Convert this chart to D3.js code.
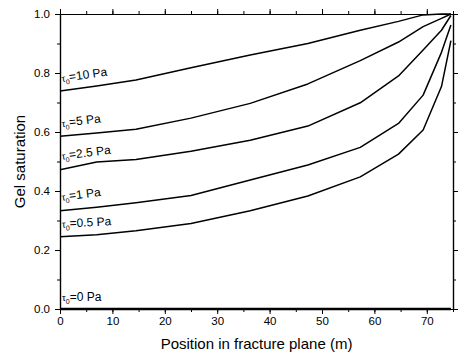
<!DOCTYPE html>
<html>
<head>
<meta charset="utf-8">
<script src="https://cdn.jsdelivr.net/npm/d3@7"></script>
<style>
  body { margin: 0; background: #fff; }
  text { font-family: "Liberation Sans", Arial, sans-serif; fill: #000; }
</style>
</head>
<body>
<svg id="chart" width="465" height="360"></svg>
<script>
// x positions along the fracture plane (m)
const positions = [0, 7, 14.5, 25, 36.3, 47.3, 57.3, 64.6, 69.3, 72.8, 74.6];

// gel saturation for each yield stress
const sat10  = [0.739, 0.756, 0.776, 0.818, 0.861, 0.900, 0.945, 0.975, 0.997, 1.0, 1.0];
const sat5   = [0.586, 0.597, 0.609, 0.647, 0.697, 0.763, 0.842, 0.905, 0.957, 0.985, 1.0];
const sat2_5 = [0.472, 0.498, 0.507, 0.535, 0.572, 0.620, 0.699, 0.790, 0.878, 0.945, 0.995];
const sat1   = [0.333, 0.345, 0.360, 0.385, 0.437, 0.488, 0.548, 0.629, 0.725, 0.870, 0.963];
const sat0_5 = [0.245, 0.252, 0.265, 0.290, 0.333, 0.383, 0.448, 0.525, 0.607, 0.754, 0.910];
const sat0   = [0, 0, 0, 0, 0, 0, 0, 0, 0, 0, 0];

const labels = ["=10 Pa", "=5 Pa", "=2.5 Pa", "=1 Pa", "=0.5 Pa", "=0 Pa"];
const xTicks = [0, 10, 20, 30, 40, 50, 60, 70];
const yTicks = [0.0, 0.2, 0.4, 0.6, 0.8, 1.0];

const series = [sat10, sat5, sat2_5, sat1, sat0_5, sat0];

const margin = { left: 60, top: 14, right: 12, bottom: 51 };
const width = 465 - margin.left - margin.right;
const height = 360 - margin.top - margin.bottom;

const svg = d3.select("#chart");
const g = svg.append("g").attr("transform", "translate(" + margin.left + "," + margin.top + ")");

const x = d3.scaleLinear().domain([0, 75]).range([0, width]);
const y = d3.scaleLinear().domain([0, 1]).range([height, 0]);

const minorX = d3.range(0, 76, 5);
const minorY = d3.range(0, 1.01, 0.1);

// minor ticks (short) on all four sides
function minorAxis(axis, scale, vals) {
  return axis(scale).tickValues(vals).tickSize(3).tickFormat("").tickSizeOuter(0);
}
g.append("g").attr("transform", "translate(0," + height + ")")
  .call(minorAxis(d3.axisBottom, x, minorX));
g.append("g").call(minorAxis(d3.axisTop, x, minorX));
g.append("g").call(minorAxis(d3.axisLeft, y, minorY));
g.append("g").attr("transform", "translate(" + width + ",0)")
  .call(minorAxis(d3.axisRight, y, minorY));

// major axes
g.append("g").attr("transform", "translate(0," + height + ")")
  .call(d3.axisBottom(x).tickValues(xTicks).tickSize(5).tickSizeOuter(0).tickPadding(3))
  .call(a => a.selectAll("text").attr("font-size", "11.5px").attr("fill", "#000"));
g.append("g")
  .call(d3.axisLeft(y).tickValues(yTicks).tickSize(5).tickSizeOuter(0).tickPadding(5).tickFormat(d3.format(".1f")))
  .call(a => a.selectAll("text").attr("font-size", "11.5px").attr("fill", "#000"));
g.append("g").call(d3.axisTop(x).tickValues(xTicks).tickSize(5).tickFormat("").tickSizeOuter(0));
g.append("g").attr("transform", "translate(" + width + ",0)")
  .call(d3.axisRight(y).tickValues(yTicks).tickSize(5).tickFormat("").tickSizeOuter(0));

g.selectAll(".domain").attr("stroke", "#000").attr("stroke-width", 1.2);
g.selectAll(".tick line").attr("stroke", "#000").attr("stroke-width", 1);

// curves
const line = d3.line().x((d, i) => x(positions[i])).y(d => y(d));
g.selectAll("path.curve")
  .data(series)
  .enter()
  .append("path")
  .attr("class", "curve")
  .attr("d", d => line(d))
  .attr("fill", "none")
  .attr("stroke", "#000")
  .attr("stroke-width", (d, i) => i === 5 ? 2.6 : 1.5)
  .attr("stroke-linejoin", "round");

// curve labels
const labelAngle = [-8, -7, -7, -7, -3, 0];
const labelLift = [9, 9, 10, 10, 9, 8];
labels.forEach((lab, i) => {
  const t = g.append("text")
    .attr("transform", "translate(" + (x(0) + 2) + "," + (y(series[i][0]) - labelLift[i]) + ") rotate(" + labelAngle[i] + ")")
    .attr("font-size", "12px");
  t.append("tspan").attr("font-size", "9.5px").text("τ");
  t.append("tspan").attr("font-size", "7px").attr("dy", 3).text("0");
  t.append("tspan").attr("dy", -3).text(lab);
});

// axis titles
svg.append("text")
  .attr("x", margin.left + width / 2)
  .attr("y", 349)
  .attr("text-anchor", "middle")
  .attr("font-size", "15px")
  .text("Position in fracture plane (m)");

svg.append("text")
  .attr("transform", "translate(25," + (margin.top + height / 2) + ") rotate(-90)")
  .attr("text-anchor", "middle")
  .attr("font-size", "15px")
  .text("Gel saturation");
</script>
</body>
</html>
